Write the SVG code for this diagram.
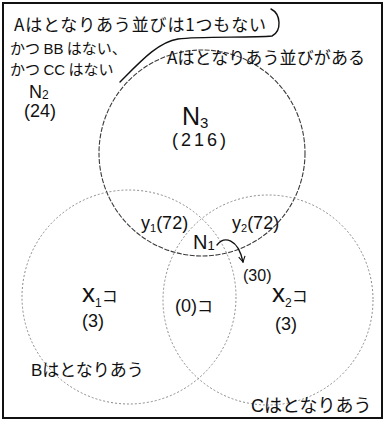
<svg xmlns="http://www.w3.org/2000/svg" width="390" height="426" viewBox="0 0 390 426">
<style>
text{font-family:"Noto Sans CJK JP","Liberation Sans",sans-serif;fill:#111}
.lat{font-family:"Liberation Sans","Noto Sans CJK JP",sans-serif}
.circA{fill:none;stroke:#3a3a3a;stroke-width:1.1;stroke-dasharray:5 1.5}
.circBC{fill:none;stroke:#8a8a8a;stroke-width:1;stroke-dasharray:2 2}
.ink{fill:none;stroke:#111;stroke-width:1.4;stroke-linecap:round}
</style>
<defs>
<marker id="vhead" viewBox="0 0 10 10" refX="8" refY="5" markerWidth="8" markerHeight="8" orient="auto" markerUnits="userSpaceOnUse">
<path d="M1,1 L8,5 L1,9" fill="none" stroke="#111" stroke-width="1.4"/>
</marker>
</defs>
<rect x="3" y="3" width="379" height="415" fill="#fff" stroke="#111" stroke-width="2"/>
<g id="circle-A"><circle class="circA" cx="202" cy="153" r="103"/></g>
<g id="circle-B"><circle class="circBC" cx="129" cy="297" r="107"/></g>
<g id="circle-C"><circle class="circBC" cx="268" cy="300" r="105"/></g>
<g id="connectors">
<path class="ink" d="M271,9 C281,14 282,31 272,36 C250,38 200,36 178,39 C158,42 140,62 120,82"/>
<path class="ink" d="M217,245 C224,236 238,238 243,262" marker-end="url(#vhead)"/>
</g>
<g id="N2-region">
<text x="14" y="31" font-size="17" textLength="252" lengthAdjust="spacing">Aはとなりあう並びは1つもない</text>
<text x="10" y="54" font-size="15">かつ <tspan class="lat">BB</tspan> はない、</text>
<text x="10" y="75" font-size="15">かつ <tspan class="lat">CC</tspan> はない</text>
<text class="lat" x="29" y="98" font-size="18">N<tspan font-size="12" dy="1">2</tspan></text>
<text class="lat" x="24" y="117" font-size="18">(24)</text>
</g>
<g id="A-label"><text x="167" y="64" font-size="17" textLength="198" lengthAdjust="spacing">Aはとなりあう並びがある</text></g>
<g id="N3-region">
<text class="lat" x="182" y="125" font-size="25">N<tspan font-size="15" dy="3">3</tspan></text>
<text class="lat" x="172" y="146" font-size="18" letter-spacing="3">(216)</text>
</g>
<g id="y1-region"><text class="lat" x="141" y="229" font-size="18">y<tspan font-size="11" dy="3">1</tspan><tspan dy="-3">(72)</tspan></text></g>
<g id="y2-region"><text class="lat" x="232" y="229" font-size="18">y<tspan font-size="11" dy="3">2</tspan><tspan dy="-3">(72)</tspan></text></g>
<g id="N1-region">
<text class="lat" x="193" y="249" font-size="20">N<tspan font-size="13" dy="1">1</tspan></text>
<text class="lat" x="243" y="281" font-size="16">(30)</text>
</g>
<g id="x1-region">
<text x="82" y="302" font-size="26"><tspan class="lat">x</tspan><tspan class="lat" font-size="12" dy="5">1</tspan><tspan font-size="16" dy="-5">コ</tspan></text>
<text class="lat" x="82" y="327" font-size="18">(3)</text>
<text x="31" y="376" font-size="17"><tspan class="lat">B</tspan>はとなりあう</text>
</g>
<g id="zero-region"><text x="175" y="312" font-size="18"><tspan class="lat">(0)</tspan><tspan font-size="16">コ</tspan></text></g>
<g id="x2-region">
<text x="272" y="302" font-size="26"><tspan class="lat">x</tspan><tspan class="lat" font-size="12" dy="5">2</tspan><tspan font-size="16" dy="-5">コ</tspan></text>
<text class="lat" x="275" y="330" font-size="18">(3)</text>
<text x="251" y="412" font-size="18"><tspan class="lat">C</tspan>はとなりあう</text>
</g>
</svg>
